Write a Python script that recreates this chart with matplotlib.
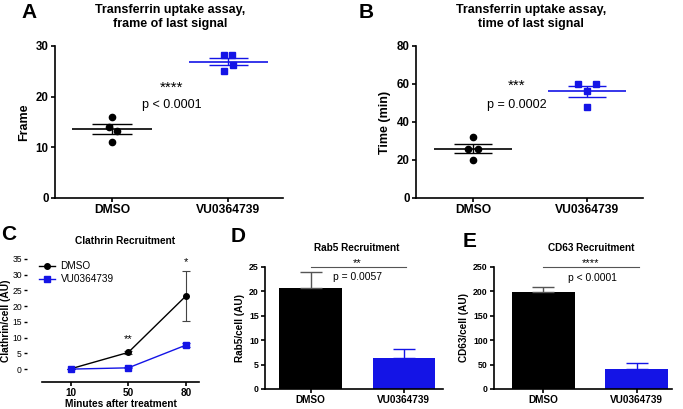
import matplotlib
matplotlib.use("Agg")
import matplotlib.pyplot as plt
from matplotlib.lines import Line2D
import numpy as np

plt.rcParams['font.family'] = ['Liberation Sans', 'DejaVu Sans']

W, H = 683, 409
BLUE = '#1414e6'

# ---------------- data ----------------
groups = ['DMSO', 'VU0364739']

# Panel A: frame of last signal
a_dmso = [16.0, 14.1, 13.3, 11.1]
a_vu = [28.2, 28.2, 26.2, 25.1]
a_ticks = [0, 10, 20, 30]

# Panel B: time of last signal (min)
b_dmso = [32.0, 26.0, 26.0, 20.0]
b_vu = [60.0, 60.0, 56.5, 48.0]
b_ticks = [0, 20, 40, 60, 80]

# Panel C: clathrin recruitment
c_minutes = ['10', '50', '80']
c_dmso = [0.1, 5.3, 23.2]
c_dmso_err = [0.0, 0.4, 8.0]
c_vu = [0.0, 0.4, 7.6]
c_vu_err = [0.0, 0.2, 0.6]
c_ticks = [0, 5, 10, 15, 20, 25, 30, 35]

# Panel D: Rab5 recruitment
d_vals = [20.7, 6.3]
d_err = [3.3, 1.8]
d_ticks = [0, 5, 10, 15, 20, 25]

# Panel E: CD63 recruitment
e_vals = [198, 42]
e_err = [12, 12]
e_ticks = [0, 50, 100, 150, 200, 250]


# ---------------- helpers ----------------
def ax_px(fig, left, top, right, bottom):
    return fig.add_axes([left / W, 1 - bottom / H, (right - left) / W, (bottom - top) / H])


def ftext(fig, x, y, s, **kw):
    fig.text(x / W, 1 - y / H, s, **kw)


def style_axes(ax, tick_fs=8, lab_fs=8.5):
    ax.spines['top'].set_visible(False)
    ax.spines['right'].set_visible(False)
    for sp in ['left', 'bottom']:
        ax.spines[sp].set_linewidth(1.2)
    ax.tick_params(axis='both', width=1.2, length=3, labelsize=tick_fs, pad=1.5)
    for lab in ax.get_yticklabels() + ax.get_xticklabels():
        lab.set_fontweight('bold')


fig = plt.figure(figsize=(W / 100, H / 100), dpi=100)


def scatter_panel(ax, dmso, vu, ticks, ylabel, offsets_d, offsets_v):
    for i, (vals, col, mk, offs) in enumerate([(dmso, 'black', 'o', offsets_d),
                                               (vu, BLUE, 's', offsets_v)]):
        v = np.array(vals)
        m = v.mean()
        sem = v.std(ddof=1) / np.sqrt(len(v))
        ax.plot(i + np.array(offs), v, ls='none', marker=mk, color=col, ms=4.5 if mk == 'o' else 5)
        ax.hlines(m, i - 0.34, i + 0.34, color=col, lw=1.2)
        ax.hlines([m - sem, m + sem], i - 0.17, i + 0.17, color=col, lw=1.0)
        ax.vlines(i, m - sem, m + sem, color=col, lw=1.0)
    ax.set_ylim(ticks[0], ticks[-1])
    ax.set_yticks(ticks)
    ax.set_xticks([0, 1])
    ax.set_xticklabels(groups)
    ax.set_ylabel(ylabel, fontsize=9, fontweight='bold', labelpad=4)
    style_axes(ax, tick_fs=8.3)
    for lab in ax.get_xticklabels():
        lab.set_fontsize(8.7)


# ---------------- Panel A ----------------
axA = ax_px(fig, 55, 46, 283, 198)
scatter_panel(axA, a_dmso, a_vu, a_ticks, 'Frame',
              [0.0, -0.03, 0.04, 0.0], [-0.04, 0.035, 0.04, -0.04])
axA.set_xlim(-0.49, 1.47)
ftext(fig, 170, 17, 'Transferrin uptake assay,\nframe of last signal', ha='center', va='center',
      fontsize=9, fontweight='bold', linespacing=1.15)
ftext(fig, 29, 12, 'A', ha='center', va='center', fontsize=15, fontweight='bold')
ftext(fig, 172, 88, '****', ha='center', va='center', fontsize=11)
ftext(fig, 172, 105, 'p < 0.0001', ha='center', va='center', fontsize=9)

# ---------------- Panel B ----------------
axB = ax_px(fig, 416, 46, 643, 198)
scatter_panel(axB, b_dmso, b_vu, b_ticks, 'Time (min)',
              [0.0, -0.04, 0.04, 0.0], [-0.08, 0.08, 0.0, 0.0])
axB.set_xlim(-0.5, 1.49)
ftext(fig, 531, 17, 'Transferrin uptake assay,\ntime of last signal', ha='center', va='center',
      fontsize=9, fontweight='bold', linespacing=1.15)
ftext(fig, 366, 12, 'B', ha='center', va='center', fontsize=15, fontweight='bold')
ftext(fig, 517, 86, '***', ha='center', va='center', fontsize=11)
ftext(fig, 517, 105, 'p = 0.0002', ha='center', va='center', fontsize=9)

# ---------------- Panel C ----------------
axC = ax_px(fig, 42, 259, 199, 382)
xc = np.arange(len(c_minutes))
axC.errorbar(xc, c_dmso, yerr=c_dmso_err, color='black', marker='o', ms=4, lw=1.0,
             ecolor='#444444', elinewidth=0.8, capsize=3, capthick=0.8)
axC.errorbar(xc, c_vu, yerr=c_vu_err, color=BLUE, marker='s', ms=4.5, lw=1.0,
             elinewidth=0.8, capsize=3, capthick=0.8)
axC.set_xlim(-0.5, 2.23)
axC.set_ylim(-4.1, 35)
axC.set_yticks(c_ticks)
axC.set_xticks(xc)
axC.set_xticklabels(c_minutes)
style_axes(axC, tick_fs=6.2)
axC.spines['left'].set_position(('outward', 11))
axC.spines['left'].set_color('none')
axC.tick_params(axis='y', length=2.5, width=1.0, pad=1)
axC.tick_params(axis='x', pad=1)
for lab in axC.get_xticklabels():
    lab.set_fontsize(7.2)
axC.set_xlabel('Minutes after treatment', fontsize=7.3, fontweight='bold', labelpad=1)
axC.set_ylabel('Clathrin/cell (AU)', fontsize=7.3, fontweight='bold', labelpad=1)
handles = [Line2D([], [], color='black', marker='o', ms=4, lw=1.0),
           Line2D([], [], color=BLUE, marker='s', ms=4.5, lw=1.0)]
axC.legend(handles, groups, loc='upper left', bbox_to_anchor=(-0.06, 1.03), frameon=False,
           fontsize=7.2, handlelength=1.6, handletextpad=0.6, labelspacing=0.3, borderaxespad=0.2)
axC.text(1, c_dmso[1] + 2.8, '**', ha='center', va='bottom', fontsize=8)
axC.text(2, c_dmso[2] + c_dmso_err[2] + 1.2, '*', ha='center', va='bottom', fontsize=8)
ftext(fig, 125, 241, 'Clathrin Recruitment', ha='center', va='center', fontsize=7.3, fontweight='bold')
ftext(fig, 9, 234, 'C', ha='center', va='center', fontsize=15, fontweight='bold')


# ---------------- Panels D and E ----------------
def bar_panel(ax, vals, errs, ticks, ylabel):
    cols = ['black', BLUE]
    ecols = ['#555555', BLUE]
    for i in range(2):
        ax.bar(i, vals[i], width=0.67, color=cols[i])
        ax.errorbar(i, vals[i], yerr=[[0], [errs[i]]], color=ecols[i], lw=1.0,
                    capsize=8, capthick=1.0)
    ax.set_ylim(ticks[0], ticks[-1])
    ax.set_yticks(ticks)
    ax.set_xticks([0, 1])
    ax.set_xticklabels(groups)
    style_axes(ax, tick_fs=6.3)
    ax.tick_params(axis='x', labelsize=7.2)
    ax.set_ylabel(ylabel, fontsize=7.2, fontweight='bold', labelpad=3)


axD = ax_px(fig, 265, 267, 443, 389)
bar_panel(axD, d_vals, d_err, d_ticks, 'Rab5/cell (AU)')
axD.set_xlim(-0.49, 1.42)
axD.plot([0.0, 1.02], [d_ticks[-1], d_ticks[-1]], color='#555555', lw=0.8, clip_on=False)
ftext(fig, 357, 263, '**', ha='center', va='center', fontsize=8)
ftext(fig, 357, 277, 'p = 0.0057', ha='center', va='center', fontsize=7.4)
ftext(fig, 357, 248, 'Rab5 Recruitment', ha='center', va='center', fontsize=7.2, fontweight='bold')
ftext(fig, 238, 237, 'D', ha='center', va='center', fontsize=15, fontweight='bold')

axE = ax_px(fig, 494, 267, 672, 389)
bar_panel(axE, e_vals, e_err, e_ticks, 'CD63/cell (AU)')
axE.set_xlim(-0.53, 1.38)
axE.plot([0.0, 1.03], [e_ticks[-1], e_ticks[-1]], color='#555555', lw=0.8, clip_on=False)
ftext(fig, 591, 263, '****', ha='center', va='center', fontsize=8)
ftext(fig, 592, 278, 'p < 0.0001', ha='center', va='center', fontsize=7.4)
ftext(fig, 591, 248, 'CD63 Recruitment', ha='center', va='center', fontsize=7.2, fontweight='bold')
ftext(fig, 470, 242, 'E', ha='center', va='center', fontsize=15, fontweight='bold')

fig.savefig('out.png', dpi=100)
